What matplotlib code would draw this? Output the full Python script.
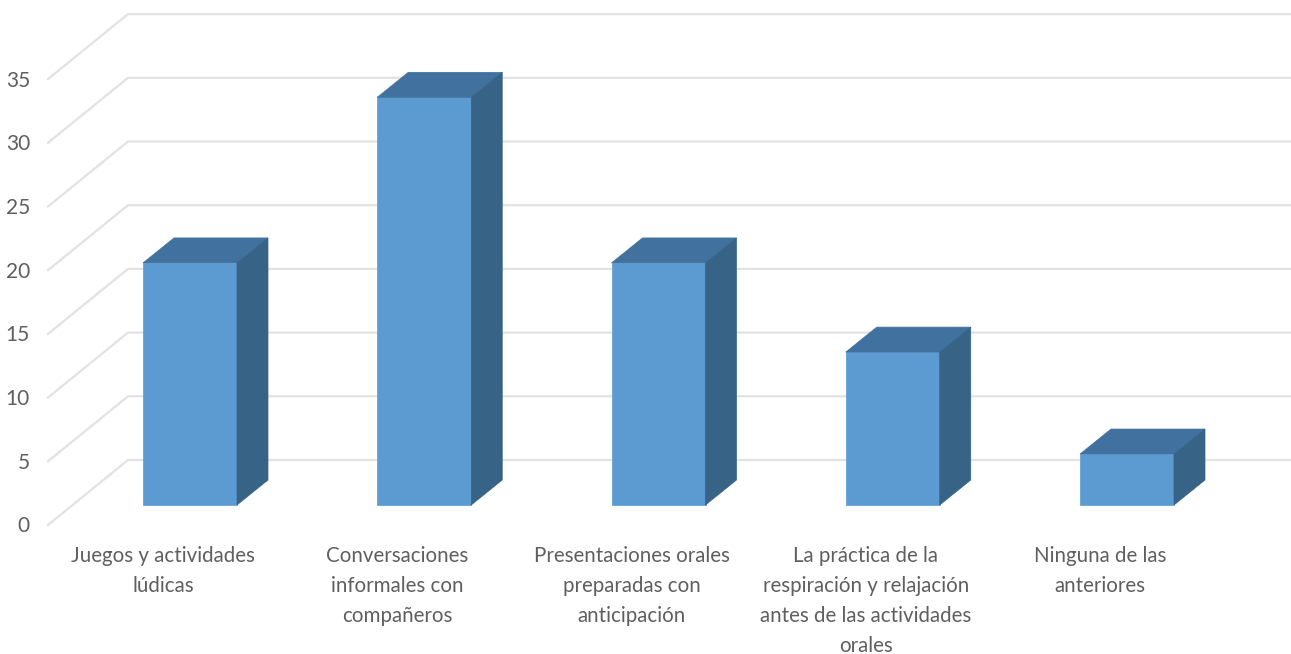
import matplotlib.pyplot as plt
from matplotlib.patches import Polygon

categories = ["Juegos y actividades\nlúdicas",
              "Conversaciones\ninformales con\ncompañeros",
              "Presentaciones orales\npreparadas con\nanticipación",
              "La práctica de la\nrespiración y relajación\nantes de las actividades\norales",
              "Ninguna de las\nanteriores"]
values = [19, 32, 19, 12, 4]
y_ticks = [0, 5, 10, 15, 20, 25, 30, 35]

# colours
front_col = "#5b9bd2"
top_col = "#41719f"
side_col = "#376387"
grid_col = "#e2e2e2"
text_col = "#5f5f5f"

W, H = 1291, 654
fig = plt.figure(figsize=(W / 100, H / 100), dpi=100)
ax = fig.add_axes([0, 0, 1, 1])
ax.axis("off")

# one category = 234.25 px, one value unit = 12.74 px, x=0 at px 190, y=0 at px 505
cat_px = 234.25
val_px = 12.74
ax.set_xlim((0 - 190) / cat_px, (W - 190) / cat_px)
ax.set_ylim((505 - H) / val_px, 505 / val_px)

bar_w = 94 / cat_px
depth_x = 31 / cat_px
depth_y = 25 / val_px

# walls: floor offset of the grid lines relative to the bars
grid_front_x = -142 / cat_px
grid_back_x = -62 / cat_px
grid_front_y = -20 / val_px
grid_back_y = 45 / val_px
x_end = (W - 190) / cat_px

for t in y_ticks:
    ax.plot([grid_front_x, grid_back_x, x_end],
            [t + grid_front_y, t + grid_back_y, t + grid_back_y],
            color=grid_col, lw=1.6, zorder=1, solid_joinstyle="miter")
    ax.text(grid_front_x - 18 / cat_px, t + grid_front_y - 1.5 / val_px, str(t), ha="right", va="center",
            fontsize=15, color=text_col, family="Lato")

for i, v in enumerate(values):
    l = i - bar_w / 2
    r = i + bar_w / 2
    ax.add_patch(Polygon([(l, 0), (r, 0), (r, v), (l, v)], fc=front_col, ec=front_col, lw=0.5, zorder=3))
    ax.add_patch(Polygon([(l, v), (r, v), (r + depth_x, v + depth_y), (l + depth_x, v + depth_y)],
                         fc=top_col, ec=top_col, lw=0.5, zorder=3))
    ax.add_patch(Polygon([(r, 0), (r + depth_x, depth_y), (r + depth_x, v + depth_y), (r, v)],
                         fc=side_col, ec=side_col, lw=0.5, zorder=3))
    ax.text(i - 27 / cat_px, -41.5 / val_px, categories[i], ha="center", va="top",
            fontsize=14.8, color=text_col, family="Lato", linespacing=1.62)

fig.savefig("out.png", dpi=100)
